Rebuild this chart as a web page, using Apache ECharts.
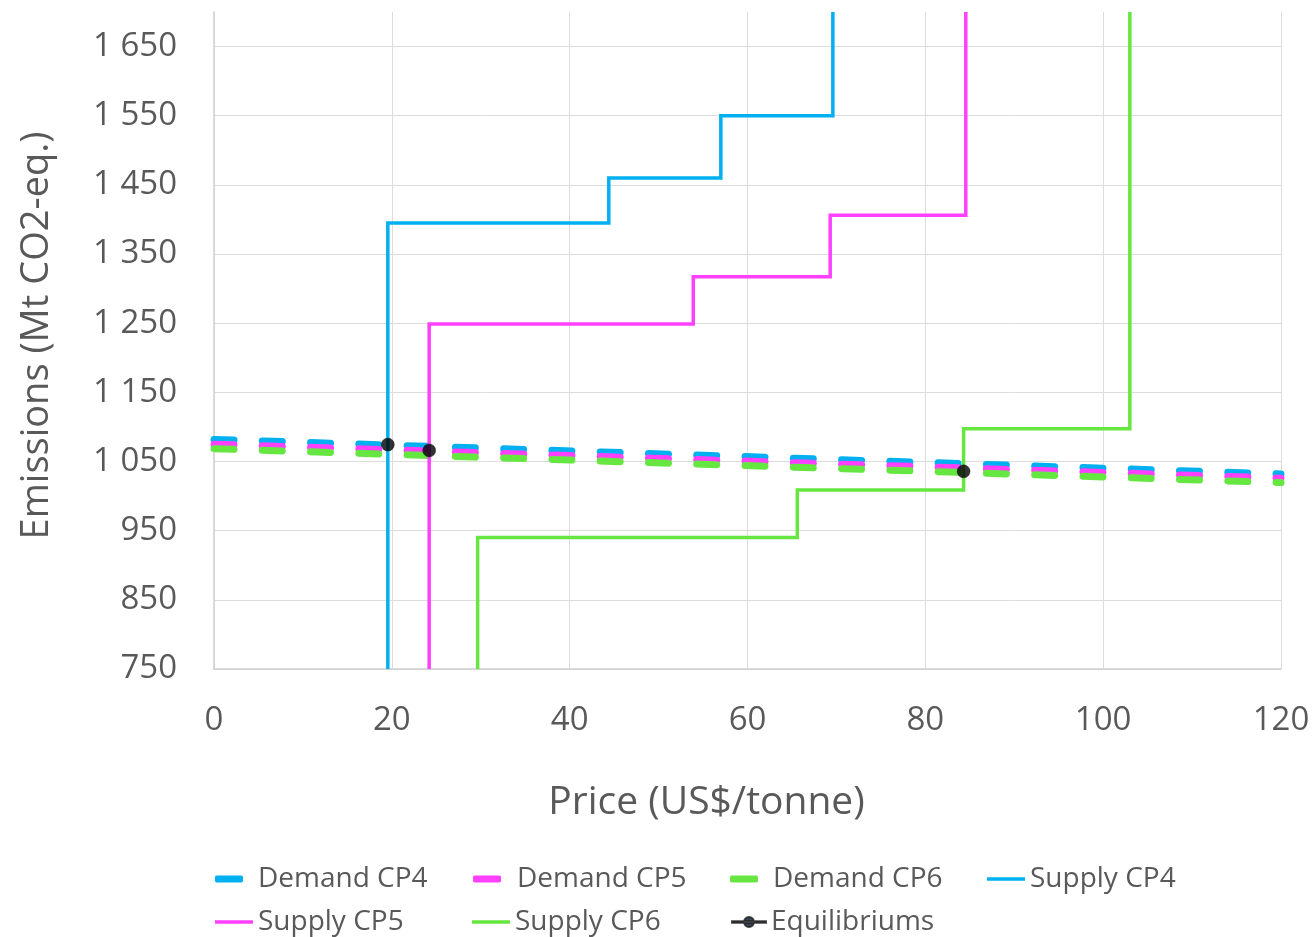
<!DOCTYPE html>
<html>
<head>
<meta charset="utf-8">
<script src="https://cdn.jsdelivr.net/npm/echarts@6/dist/echarts.min.js"></script>
<style>
html,body{margin:0;padding:0;background:#fff;}
#chart{width:1316px;height:937px;}
</style>
</head>
<body>
<div id="chart"></div>
<script>
// ---- data ----
const xTicks = [0, 20, 40, 60, 80, 100, 120];
const yTicks = [750, 850, 950, 1050, 1150, 1250, 1350, 1450, 1550, 1650];

const demandCP4 = [[0, 1082], [120, 1032]];
const demandCP5 = [[0, 1075], [120, 1026]];
const demandCP6 = [[0, 1068.5], [120, 1019.5]];

const supplyCP4 = [[19.55, 750], [19.55, 1395], [44.4, 1395], [44.4, 1460], [57.0, 1460], [57.0, 1550], [69.6, 1550], [69.6, 1700]];
const supplyCP5 = [[24.2, 750], [24.2, 1249], [53.9, 1249], [53.9, 1317], [69.3, 1317], [69.3, 1406], [84.55, 1406], [84.55, 1700]];
const supplyCP6 = [[29.65, 750], [29.65, 940], [65.6, 940], [65.6, 1009], [84.3, 1009], [84.3, 1097.5], [103.0, 1097.5], [103.0, 1700]];

const equilibriums = [[19.55, 1074.5], [24.2, 1066], [84.3, 1035.8]];

const seriesNames = ['Demand CP4', 'Demand CP5', 'Demand CP6', 'Supply CP4', 'Supply CP5', 'Supply CP6', 'Equilibriums'];

// ---- styling ----
const BLUE = '#00b0f0', MAG = '#ff40ff', GREEN = '#66e640';
const TXT = '#595959';
const FONT = '"Open Sans", "DejaVu Sans", sans-serif';

function fmt(v) {
  return String(v).replace(/\B(?=(\d{3})+(?!\d))/g, ' ');
}

const chart = echarts.init(document.getElementById('chart'), null, {renderer: 'canvas'});

function demandSeries(name, data, color) {
  return {
    name, type: 'line', data, symbol: 'none', silent: true,
    lineStyle: {color, width: 7, type: [20, 28.3], cap: 'round'},
    itemStyle: {color}, z: 2
  };
}
function supplySeries(name, data, color) {
  return {
    name, type: 'line', data, symbol: 'none', silent: true,
    lineStyle: {color, width: 3.5, join: 'miter'},
    itemStyle: {color}, z: 3
  };
}

function legendItem(name, left, top, opts) {
  return Object.assign({
    data: [name], left, top, orient: 'horizontal', padding: 0, itemGap: 0,
    selectedMode: false,
    textStyle: {fontFamily: FONT, fontSize: 28, color: TXT, lineHeight: 34}
  }, opts);
}
const demandLeg = {icon: 'roundRect', itemWidth: 28, itemHeight: 7};
const supplyLeg = {icon: 'rect', itemWidth: 38, itemHeight: 3.5};

const row1 = 879 - 17, row2 = 922 - 17;

const option = {
  animation: false,
  backgroundColor: '#ffffff',
  grid: {left: 214, right: 35, top: 12, bottom: 268, containLabel: false},
  xAxis: {
    type: 'value', min: xTicks[0], max: xTicks[xTicks.length - 1], interval: 20,
    name: 'Price (US$/tonne)', nameLocation: 'middle', nameGap: 114,
    nameTextStyle: {fontFamily: FONT, fontSize: 39, color: TXT, padding: [0, 82, 0, 0]},
    axisLine: {show: true, lineStyle: {color: '#d0d0d0', width: 1.5}},
    axisTick: {show: false},
    axisLabel: {fontFamily: FONT, fontSize: 33, color: TXT, margin: 35, formatter: v => fmt(v)},
    splitLine: {show: true, lineStyle: {color: '#dcdcdc', width: 1}}
  },
  yAxis: {
    type: 'value', min: yTicks[0], max: 1700, interval: 100,
    name: 'Emissions (Mt CO2-eq.)', nameLocation: 'middle', nameGap: 158, nameRotate: 90,
    nameTextStyle: {fontFamily: FONT, fontSize: 38, color: TXT, padding: [0, 0, 0, 10]},
    axisLine: {show: true, lineStyle: {color: '#d0d0d0', width: 1.5}},
    axisTick: {show: false},
    axisLabel: {fontFamily: FONT, fontSize: 33, color: TXT, margin: 37, showMaxLabel: false,
      formatter: v => (yTicks.indexOf(v) >= 0 ? fmt(v) : '')},
    splitLine: {show: true, showMaxLine: false, lineStyle: {color: '#dcdcdc', width: 1}}
  },
  legend: [
    legendItem(seriesNames[0], 215, row1, Object.assign({}, demandLeg, {textStyle: {fontFamily: FONT, fontSize: 28, color: TXT, lineHeight: 34, padding: [0, 0, 0, 10]}})),
    legendItem(seriesNames[1], 473, row1, Object.assign({}, demandLeg, {textStyle: {fontFamily: FONT, fontSize: 28, color: TXT, lineHeight: 34, padding: [0, 0, 0, 11]}})),
    legendItem(seriesNames[2], 730, row1, Object.assign({}, demandLeg, {textStyle: {fontFamily: FONT, fontSize: 28, color: TXT, lineHeight: 34, padding: [0, 0, 0, 10]}})),
    legendItem(seriesNames[3], 987, row1, supplyLeg),
    legendItem(seriesNames[4], 215, row2, supplyLeg),
    legendItem(seriesNames[5], 472, row2, supplyLeg),
    legendItem(seriesNames[6], 731, row2, {
      icon: 'path://M0,4.25h34v1.5h-34z M12,5 a5,5 0 1,0 10,0 a5,5 0 1,0 -10,0z',
      itemWidth: 34, itemHeight: 10, itemStyle: {color: '#0a1530'}
    })
  ],
  series: [
    demandSeries(seriesNames[0], demandCP4, BLUE),
    demandSeries(seriesNames[1], demandCP5, MAG),
    demandSeries(seriesNames[2], demandCP6, GREEN),
    supplySeries(seriesNames[3], supplyCP4, BLUE),
    supplySeries(seriesNames[4], supplyCP5, MAG),
    supplySeries(seriesNames[5], supplyCP6, GREEN),
    {
      name: seriesNames[6], type: 'scatter', data: equilibriums, symbol: 'circle', symbolSize: 13,
      itemStyle: {color: '#000000', borderColor: '#1a1a1a', borderWidth: 0.5}, z: 5, silent: true
    }
  ]
};
chart.setOption(option);
</script>
</body>
</html>
